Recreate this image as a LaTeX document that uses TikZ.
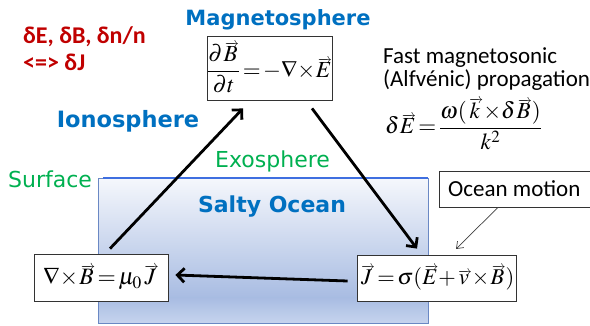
\documentclass[tikz,border=0pt]{standalone}
\usepackage{amsmath}
\usepackage{mathptmx}
\usepackage{fontspec}
\setmainfont{Liberation Serif}
\newfontfamily\verdfont{DejaVu Sans}
\newfontfamily\calfont{Carlito}
\usetikzlibrary{arrows.meta}
\makeatletter
\newcommand\smallarrowfill{$\m@th\scriptscriptstyle\smash-\mkern-7mu\cleaders\hbox{$\scriptscriptstyle\mkern-2mu\smash-\mkern-2mu$}\hfill\mkern-7mu\mathord\rightarrow$}
\newcommand\vv[1]{\vbox{\m@th\ialign{##\crcr
  \kern0.12em\smallarrowfill\crcr\noalign{\kern-1pt\nointerlineskip}
  $\hfil\displaystyle{#1}\hfil$\crcr}}}
\makeatother
\newcommand\tightmath{\medmuskip=0mu\thickmuskip=2mu}
\definecolor{tblue}{HTML}{0070C0}
\definecolor{tgreen}{HTML}{00B050}
\definecolor{tred}{HTML}{C00000}
\definecolor{oceantop}{HTML}{F5F7FC}
\definecolor{oceanmid}{HTML}{A8BCE2}
\definecolor{oceanbot}{HTML}{C6D4EE}
\definecolor{oceanedge}{HTML}{6A88C4}
\definecolor{surfblue}{HTML}{3F6FE0}
\tikzset{
  eqbox/.style={draw=black!80, line width=0.8pt, fill=white, inner sep=0pt, align=center},
  bigarrow/.style={line width=2.8pt, -{Straight Barb[length=7pt,width=14pt]}},
  thinarrow/.style={draw=black!75, line width=0.7pt, -{Straight Barb[length=6pt,width=9pt]}},
  regionlbl/.style={text=tblue, inner sep=0pt, anchor=base},
  greenlbl/.style={font=\verdfont\fontsize{22}{26}\selectfont, text=tgreen, inner sep=0pt},
  callbl/.style={font=\calfont\fontsize{23}{23}\selectfont, inner sep=0pt},
  redlbl/.style={font=\calfont\bfseries\fontsize{24}{24}\selectfont, text=tred, anchor=base west, inner sep=0pt}
}
\begin{document}
\begin{tikzpicture}[x=1pt,y=-1pt]
\useasboundingbox (0,0) rectangle (590,325);
% ocean
\shade[top color=oceantop, bottom color=oceanmid] (98,178) rectangle (428,298);
\shade[top color=oceanmid, bottom color=oceanbot] (98,297.5) rectangle (428,323);
\draw[oceanedge, line width=0.9pt] (98,178) rectangle (428,323);
\draw[surfblue, line width=2.2pt] (103,178) -- (428,178);
% labels
\node[regionlbl, font=\verdfont\bfseries\fontsize{21}{25}\selectfont] (mag) at (278,25) {Magnetosphere};
\node[regionlbl, font=\verdfont\bfseries\fontsize{22.5}{26}\selectfont] (iono) at (128,127) {Ionosphere};
\node[regionlbl, font=\verdfont\bfseries\fontsize{22}{26}\selectfont] (salty) at (272,212) {Salty Ocean};
\node[greenlbl, anchor=base west] (exo) at (215,167) {Exosphere};
\node[greenlbl, anchor=base west] (surf) at (8,187) {Surface};
\node[redlbl] (red1) at (23,43) {δE, δB, δn/n};
\node[redlbl] (red2) at (23,70) {<=> δJ};
\node[callbl, anchor=base west] (fast1) at (383,63) {Fast magnetosonic};
\node[callbl, anchor=base west] (fast2) at (383,86) {(Alfvénic) propagation};
\node[font=\fontsize{23}{27}\selectfont, anchor=west, inner sep=0pt] (prop) at (385,124)
  {$\tightmath\displaystyle \delta\vv{E}=\frac{\omega(\vv{k}\times\delta\vv{B})}{k^{2}}$};
% equation boxes
\node[eqbox, font=\fontsize{23}{27}\selectfont, minimum width=125pt, minimum height=64pt] (tbox) at (269.5,68)
  {$\tightmath\displaystyle \frac{\partial\vv{B}}{\partial t}=-\nabla\times\vv{E}$};
\node[eqbox, font=\fontsize{23.5}{28}\selectfont, minimum width=134pt, minimum height=47pt] (lbox) at (101,277.5)
  {$\tightmath\nabla\times\vv{B}=\mu_0\vv{J}$};
\node[eqbox, font=\fontsize{22.5}{27}\selectfont, minimum width=159pt, minimum height=46pt] (rbox) at (436.5,278)
  {$\tightmath\vv{J}=\sigma(\vv{E}+\vv{v}\times\vv{B})$};
\node[draw=black!80, line width=0.8pt, fill=white, minimum width=152pt, minimum height=36pt, inner sep=0pt] (obox) at (515,189) {};
\node[callbl, anchor=west] (otext) at (448,189) {Ocean motion};
% arrows
\draw[bigarrow] ([xshift=9pt,yshift=5pt]lbox.north) -- ([xshift=-26.5pt,yshift=-8pt]tbox.south);
\draw[bigarrow] ([xshift=42.5pt,yshift=-8pt]tbox.south) -- ([xshift=-19.5pt,yshift=6pt]rbox.north);
\draw[bigarrow] ([xshift=-9pt,yshift=-3pt]rbox.west) -- ([xshift=7pt,yshift=2.5pt]lbox.east);
\coordinate (otip) at (456,249);
\draw[thinarrow] ([xshift=-17pt]obox.south) -- (otip);
\end{tikzpicture}
\end{document}
